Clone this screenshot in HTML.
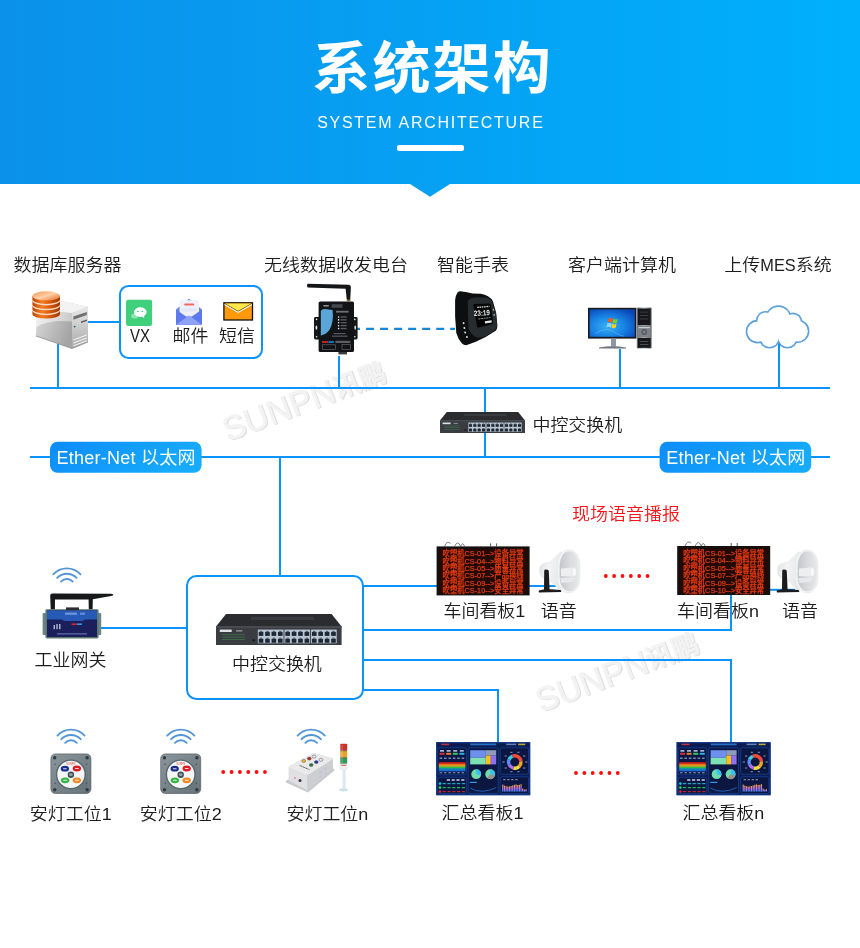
<!DOCTYPE html>
<html lang="zh-CN">
<head>
<meta charset="utf-8">
<title>系统架构 SYSTEM ARCHITECTURE</title>
<style>
html,body{margin:0;padding:0;background:#fff;}
body{width:860px;height:948px;overflow:hidden;position:relative;font-family:"Liberation Sans","Noto Sans CJK SC",sans-serif;}
#hdr{will-change:transform;position:absolute;left:0;top:0;width:860px;height:183.5px;background:linear-gradient(90deg,#0b91ea 0%,#00b0fc 100%);}
#hdr h1{position:absolute;left:0;top:32.2px;width:865.2px;margin:0;text-align:center;color:#fff;font-size:58px;line-height:70px;font-weight:bold;letter-spacing:2.2px;transform:scaleY(0.964);transform-origin:50% 100%;}
#hdr p{position:absolute;left:0;top:111.6px;width:861.7px;margin:0;text-align:center;color:#fff;font-size:16px;line-height:22px;letter-spacing:1.72px;}
#hdr i{position:absolute;left:397px;top:145px;width:67px;height:6px;border-radius:2px;background:#fff;}
svg{position:absolute;left:0;top:0;will-change:transform;}
svg text{font-family:"Liberation Sans","Noto Sans CJK SC",sans-serif;}
</style>
</head>
<body>
<div id="hdr"><h1>系统架构</h1><p>SYSTEM ARCHITECTURE</p><i></i></div>
<svg width="860" height="948" viewBox="0 0 860 948">
<defs>
<linearGradient id="gPill" x1="0" y1="0" x2="1" y2="0.25"><stop offset="0" stop-color="#0d8cf8"/><stop offset="1" stop-color="#17abfc"/></linearGradient>
<linearGradient id="gHorn" x1="0" y1="0" x2="1" y2="0.3"><stop offset="0" stop-color="#dfe0e3"/><stop offset="0.45" stop-color="#f4f4f5"/><stop offset="1" stop-color="#e4e5e7"/></linearGradient>
<linearGradient id="gBell" x1="0" y1="0" x2="1" y2="0"><stop offset="0" stop-color="#f6f6f7"/><stop offset="1" stop-color="#ededee"/></linearGradient>
<linearGradient id="gBellIn" x1="0" y1="0" x2="1" y2="0"><stop offset="0" stop-color="#c4c6c9"/><stop offset="0.5" stop-color="#d9dadc"/><stop offset="1" stop-color="#e6e7e8"/></linearGradient>
<linearGradient id="gBar" x1="0" y1="0" x2="0" y2="1"><stop offset="0" stop-color="#f6a040"/><stop offset="0.5" stop-color="#c070f0"/><stop offset="1" stop-color="#4a8af4"/></linearGradient>
<linearGradient id="gAnd" x1="0" y1="0" x2="1" y2="1"><stop offset="0" stop-color="#8b979c"/><stop offset="1" stop-color="#626f75"/></linearGradient>
<linearGradient id="gSrvF" x1="0" y1="0" x2="1" y2="0"><stop offset="0" stop-color="#efefef"/><stop offset="0.5" stop-color="#d6d6d6"/><stop offset="1" stop-color="#b4b4b4"/></linearGradient>
<linearGradient id="gSrvL" x1="0" y1="0" x2="1" y2="0.3"><stop offset="0" stop-color="#d6d6d6"/><stop offset="1" stop-color="#a4a4a4"/></linearGradient>
<linearGradient id="gSrvS" x1="0" y1="0" x2="0" y2="1"><stop offset="0" stop-color="#e9e9e9"/><stop offset="1" stop-color="#a9a9a9"/></linearGradient>
<linearGradient id="gDb" x1="0" y1="0" x2="1" y2="0"><stop offset="0" stop-color="#b84606"/><stop offset="0.35" stop-color="#f87c1e"/><stop offset="0.62" stop-color="#dc5a0a"/><stop offset="1" stop-color="#9c3604"/></linearGradient>
<linearGradient id="gDbT" x1="0" y1="0" x2="1" y2="1"><stop offset="0" stop-color="#f59a52"/><stop offset="0.5" stop-color="#ffd0a6"/><stop offset="1" stop-color="#e5671a"/></linearGradient>
<radialGradient id="gMon" cx="0.4" cy="0.62" r="0.75"><stop offset="0" stop-color="#38b2f6"/><stop offset="0.5" stop-color="#1782e4"/><stop offset="1" stop-color="#0a44b6"/></radialGradient>
<linearGradient id="gTow" x1="0" y1="0" x2="1" y2="0"><stop offset="0" stop-color="#6e7176"/><stop offset="0.5" stop-color="#b9bcc0"/><stop offset="1" stop-color="#5a5d62"/></linearGradient>
</defs>
<polygon points="409.2,183.4 450.8,183.4 430,196.8" fill="#06a1f3"/>
<text x="309.0" y="412.5" font-size="33.5" fill="#dedede" stroke="#dedede" stroke-width="0.5" text-anchor="middle" transform="rotate(-20.5 308 411.5)">SUNPN<tspan font-size="27" font-weight="bold" dy="-1.5">讯鹏</tspan></text>
<text x="308" y="411.5" font-size="33.5" fill="#f3f3f3" stroke="#f3f3f3" stroke-width="0.5" text-anchor="middle" transform="rotate(-20.5 308 411.5)">SUNPN<tspan font-size="27" font-weight="bold" dy="-1.5">讯鹏</tspan></text>
<text x="622.0" y="683.5" font-size="33.5" fill="#dedede" stroke="#dedede" stroke-width="0.5" text-anchor="middle" transform="rotate(-20.5 621 682.5)">SUNPN<tspan font-size="27" font-weight="bold" dy="-1.5">讯鹏</tspan></text>
<text x="621" y="682.5" font-size="33.5" fill="#f3f3f3" stroke="#f3f3f3" stroke-width="0.5" text-anchor="middle" transform="rotate(-20.5 621 682.5)">SUNPN<tspan font-size="27" font-weight="bold" dy="-1.5">讯鹏</tspan></text>
<g fill="none" stroke="#0c93fb" stroke-width="2">
<path d="M30 388 H830"/>
<path d="M30 457 H830"/>
<path d="M58 344 V388"/>
<path d="M88 322 H120"/>
<path d="M339 356 V388"/>
<path d="M620 349 V388"/>
<path d="M779 344 V388"/>
<path d="M485 388 V457"/>
<path d="M280 457 V576"/>
<path d="M100 628 H187"/>
<path d="M363 586 H556"/>
<path d="M363 630 H731 V595"/>
<path d="M770 589.8 H795"/>
<path d="M363 660 H731 V742"/>
<path d="M363 690 H498 V742"/>
</g>
<path d="M352 328.9 H455" fill="none" stroke="#1487d7" stroke-width="2.2" stroke-dasharray="8 6.04"/>
<rect x="120" y="286" width="142" height="72" rx="8.5" fill="#fff" stroke="#0c93fb" stroke-width="2"/>
<rect x="187" y="576" width="176" height="123" rx="9.5" fill="#fff" stroke="#0c93fb" stroke-width="2"/>
<rect x="50" y="441.8" width="151.6" height="31" rx="7.5" fill="url(#gPill)"/>
<text x="126.2" y="464" font-size="18" fill="#fff" text-anchor="middle" letter-spacing="0.25">Ether-Net 以太网</text>
<rect x="659.6" y="441.8" width="151.6" height="31" rx="7.5" fill="url(#gPill)"/>
<text x="735.8000000000001" y="464" font-size="18" fill="#fff" text-anchor="middle" letter-spacing="0.25">Ether-Net 以太网</text>
<text x="67.5" y="271.8" font-size="18" font-weight="350" fill="#1c1c1c" text-anchor="middle" transform="translate(0 15.898) scale(1 0.94)" >数据库服务器</text>
<text x="336" y="271.8" font-size="18" font-weight="350" fill="#1c1c1c" text-anchor="middle" transform="translate(0 15.898) scale(1 0.94)" >无线数据收发电台</text>
<text x="473" y="271.8" font-size="18" font-weight="350" fill="#1c1c1c" text-anchor="middle" transform="translate(0 15.898) scale(1 0.94)" >智能手表</text>
<text x="622" y="271.8" font-size="18" font-weight="350" fill="#1c1c1c" text-anchor="middle" transform="translate(0 15.898) scale(1 0.94)" >客户端计算机</text>
<text x="778" y="271.8" font-size="18" font-weight="350" fill="#1c1c1c" text-anchor="middle" transform="translate(0 15.898) scale(1 0.94)" >上传<tspan textLength="35.4" lengthAdjust="spacingAndGlyphs">MES</tspan>系统</text>
<g>
<path d="M36 309 L62 301 L88 307 L88 342 L72 348.5 L36 336 Z" fill="url(#gSrvF)"/>
<path d="M36 309 L62 301 L88 307 L72 313 Z" fill="#f3f3f3"/>
<path d="M72 313 L88 307 L88 342 L72 348.5 Z" fill="url(#gSrvS)"/>
<path d="M36 336 L36.4 327 Q50 319.4 72 321.6 L72 348.5 Z" fill="url(#gSrvL)"/>
<path d="M36 336 L72 348.5 L88 342" fill="none" stroke="#8e8e8e" stroke-width="0.8"/>
<path d="M73.4 316.6 L86.8 312 L86.8 315 L73.4 319.8 Z" fill="#6f6f6f"/>
<path d="M81 321.6 L86.8 319.6 V321 L81 323 Z" fill="#555"/>
<circle cx="74.6" cy="326.6" r="0.9" fill="#1a5a7a"/>
<path d="M73.4 340 L86.8 335 M73.4 343 L86.8 338 M73.4 345.8 L86.8 340.8" stroke="#fff" stroke-width="0.9"/>
<path d="M32.4 310.6 V314.0 A13.8 4.6 0 0 0 60 314.0 V310.6 Z" fill="url(#gDb)"/>
<ellipse cx="46.2" cy="310.6" rx="13.8" ry="4.6" fill="#f4d9c4"/>
<path d="M32.4 305.70000000000005 V309.1 A13.8 4.6 0 0 0 60 309.1 V305.70000000000005 Z" fill="url(#gDb)"/>
<ellipse cx="46.2" cy="305.70000000000005" rx="13.8" ry="4.6" fill="#f4d9c4"/>
<path d="M32.4 300.8 V304.2 A13.8 4.6 0 0 0 60 304.2 V300.8 Z" fill="url(#gDb)"/>
<ellipse cx="46.2" cy="300.8" rx="13.8" ry="4.6" fill="#f4d9c4"/>
<path d="M32.4 295.90000000000003 V299.3 A13.8 4.6 0 0 0 60 299.3 V295.90000000000003 Z" fill="url(#gDb)"/>
<ellipse cx="46.2" cy="295.90000000000003" rx="13.8" ry="4.6" fill="url(#gDbT)"/>
</g>
<rect x="126" y="299.8" width="26.1" height="26.1" rx="2.2" fill="#40cf7b"/>
<ellipse cx="134.6" cy="316" rx="3.5" ry="2.6" fill="#8fe3b0"/>
<ellipse cx="140.3" cy="312.1" rx="6.3" ry="4.9" fill="#fff"/>
<path d="M141.6 316 L144.2 318.2 L144 315 Z" fill="#fff"/>
<ellipse cx="138" cy="311.4" rx="0.95" ry="0.6" fill="#40cf7b"/><ellipse cx="142.4" cy="311.4" rx="0.95" ry="0.6" fill="#40cf7b"/>
<text x="140" y="341.6" font-size="17.8" font-weight="350" fill="#1c1c1c" text-anchor="middle"  textLength="20" lengthAdjust="spacingAndGlyphs">VX</text>
<path d="M176 309.6 L189 298.8 L202 309.6 V324.8 H176 Z" fill="#6a84f0"/>
<rect x="179.6" y="300.2" width="19.4" height="16.4" rx="1.6" fill="#eef1fb"/>
<rect x="184.2" y="303.4" width="10" height="2.2" rx="0.8" fill="#f4685c"/>
<rect x="181.6" y="308.4" width="15.4" height="3" fill="#e2e6f7"/>
<path d="M176 309.6 L189 318.6 L202 309.6 V324.8 H176 Z" fill="#5c79ee"/>
<path d="M176 324.8 L189 315.4 L202 324.8 Z" fill="#8ea2f6"/>
<text x="190.6" y="342.2" font-size="18" font-weight="350" fill="#1c1c1c" text-anchor="middle" transform="translate(0 20.122) scale(1 0.94)" >邮件</text>
<rect x="223.9" y="302.8" width="28.6" height="17.2" fill="#ff9a0c" stroke="#111" stroke-width="1.3"/>
<path d="M224.6 303.5 H251.8 L238.2 311.8 Z" fill="#ffe84a"/>
<path d="M224.6 303.6 L238.2 311.4 L251.8 303.6" fill="none" stroke="#2a1a00" stroke-width="0.7"/><path d="M224.6 304.6 L238.2 312.4 L251.8 304.6" fill="none" stroke="#fff" stroke-width="1.1"/>
<text x="236.9" y="342.2" font-size="18" font-weight="350" fill="#1c1c1c" text-anchor="middle" transform="translate(0 20.122) scale(1 0.94)" >短信</text>
<g>
<path d="M307.6 283.7 Q306.2 285.6 307.6 287.4 L345.6 288.7 L346.9 300.8 L350.2 300.8 L350.9 287.2 Q351 284.9 348.6 284.8 Z" fill="#151618"/><rect x="347" y="299.4" width="3.2" height="1.8" fill="#7a6a3a"/>
<rect x="314" y="317" width="6" height="22.4" rx="1.4" fill="#17181a"/><rect x="352.6" y="317" width="5" height="22.4" rx="1.4" fill="#17181a"/>
<ellipse cx="316.4" cy="327.6" rx="0.9" ry="2.2" fill="#e8e8e8"/><ellipse cx="355.2" cy="327.6" rx="0.8" ry="2.2" fill="#e8e8e8"/>
<circle cx="316.6" cy="319.4" r="0.8" fill="#f0f0f0"/><circle cx="316.6" cy="336.8" r="0.8" fill="#f0f0f0"/><circle cx="354.8" cy="319.4" r="0.8" fill="#f0f0f0"/><circle cx="354.8" cy="336.8" r="0.8" fill="#f0f0f0"/>
<rect x="318.6" y="301.4" width="35.4" height="50.6" rx="1.6" fill="#121316"/>
<path d="M320.8 311 Q322 308.8 325 309 L332.6 310 Q334 322 329.4 330 Q326 334.6 320.8 335.6 Z" fill="#5aa6d6"/>
<rect x="331.6" y="304.2" width="11" height="3.6" fill="#44474c"/><rect x="323.4" y="305" width="5.4" height="1.6" fill="#8a8d92"/><rect x="336" y="310.8" width="12.6" height="1.8" fill="#6c6f75"/><rect x="333.6" y="333" width="12" height="1.2" fill="#54575d"/><rect x="332" y="335.6" width="15.6" height="1.2" fill="#54575d"/>
<circle cx="338.6" cy="317.0" r="0.8" fill="#eef"/><rect x="340.6" y="316.3" width="6" height="1.3" fill="#5a5d63"/>
<circle cx="338.6" cy="319.9" r="0.8" fill="#eef"/><rect x="340.6" y="319.2" width="6" height="1.3" fill="#5a5d63"/>
<circle cx="338.6" cy="322.8" r="0.8" fill="#eef"/><rect x="340.6" y="322.1" width="6" height="1.3" fill="#5a5d63"/>
<circle cx="338.6" cy="325.7" r="0.8" fill="#eef"/><rect x="340.6" y="325.0" width="6" height="1.3" fill="#5a5d63"/>
<circle cx="338.6" cy="328.6" r="0.8" fill="#eef"/><rect x="340.6" y="327.9" width="6" height="1.3" fill="#5a5d63"/>
<rect x="322" y="341.2" width="6" height="1.6" fill="#e02a2a"/><rect x="328.4" y="341.2" width="5.4" height="1.6" fill="#1a8ae8"/><rect x="335.4" y="340.8" width="15" height="2.2" fill="#5a5d63"/>
<rect x="322.4" y="344.8" width="13" height="4.6" fill="none" stroke="#6a6d72" stroke-width="0.6"/><rect x="342" y="344.6" width="8.6" height="5" fill="none" stroke="#6a6d72" stroke-width="0.6"/>
<rect x="338.4" y="352" width="8.6" height="2.4" fill="#3a3c40"/>
</g>
<g>
<path d="M457.5 292.4 Q459 291 462 291.4 L467 292.2 L472.5 293.4 L480.7 293.8 Q485 294.4 488 296.3 Q491.4 298.4 492.9 301.2 L496.1 312.5 L497.4 325.6 Q497.4 328.6 496.1 330.4 L485.6 337 L475.8 341.8 L466.9 345.1 Q464 345.4 462 343.5 Q458 339 456.3 332.9 L455.1 316.6 L455.1 300.3 Q455.6 295 457.5 292.4 Z" fill="#0d0e0f"/>
<path d="M467.7 302.6 Q468.4 298.4 474.2 297.5 L485.6 297.5 Q490.4 298 492.1 302 L496.1 314.2 L497 325.6 Q496.6 329 494 331 L485.6 336.1 Q480 338.6 475.8 337 Q471 334.4 468.5 328.8 Z" fill="#272d2f"/>
<path d="M473.4 305.2 Q473 304 474.6 303.9 L489.2 303.4 Q490.6 303.4 490.9 304.8 L493 322.4 Q493 323.8 491.6 324.2 L478.8 327.6 Q477.4 327.8 477 326.4 Z" fill="#040505"/>
<text x="481.8" y="315.6" font-size="7.6" font-weight="bold" fill="#eeeeee" text-anchor="middle" textLength="16" lengthAdjust="spacingAndGlyphs" transform="rotate(-3 481.8 313)">23:19</text>
<path d="M477.2 307.4 L489.4 306.4" stroke="#cfcfcf" stroke-width="1.4" stroke-dasharray="1.6 0.7"/>
<path d="M478.4 319 L490.4 317.6" stroke="#8c8c8c" stroke-width="1" stroke-dasharray="2 0.6"/>
<path d="M484.8 321.2 L491.6 320.2 L491.8 322.4 L485 323.4 Z" fill="#e6e6e6"/>
<rect x="462.8" y="322.20000000000005" width="1.6" height="1.8" fill="#e4e4e4" transform="rotate(-14 463.6 323.1)"/>
<rect x="463.59999999999997" y="327.1" width="1.6" height="1.8" fill="#e4e4e4" transform="rotate(-14 464.4 328)"/>
<rect x="464.4" y="331.6" width="1.6" height="1.8" fill="#e4e4e4" transform="rotate(-14 465.2 332.5)"/>
<rect x="466.09999999999997" y="336.1" width="1.6" height="1.8" fill="#e4e4e4" transform="rotate(-14 466.9 337)"/>
<rect x="492.7" y="308.8" width="1.4" height="1.9" fill="#9aa3a6"/><rect x="493.5" y="314" width="1.4" height="1.9" fill="#9aa3a6"/>
</g>
<g>
<rect x="588" y="307.8" width="48.4" height="30.8" fill="#1a1a1c"/>
<rect x="589.6" y="309.4" width="45.2" height="27.4" fill="url(#gMon)"/>
<path d="M595.4 333.6 Q606 326 615 332.6 Q620 335.6 624 336.2" fill="none" stroke="#7cc8f8" stroke-width="0.7" opacity="0.6"/>
<g transform="translate(612.6 323) rotate(8)"><path d="M-4.6 -3.9 q2 -1.5 4.2 -0.5 l-0.3 3.9 q-2.2 -0.7 -4.4 0.5z" fill="#f25a22"/><path d="M0.2 -4.2 q2.2 0.9 4.4 -0.6 l-0.4 4 q-2.2 1.4 -4.3 0.5z" fill="#80cc28"/><path d="M-5.2 1.1 q2.2 -1.3 4.4 -0.4 l-0.3 3.9 q-2.2 -0.8 -4.4 0.4z" fill="#8ad8ff"/><path d="M-0.3 0.8 q2.2 0.9 4.3 -0.5 l-0.4 3.9 q-2 1.4 -4.2 0.5z" fill="#fcd116"/></g>
<rect x="611" y="338.6" width="5" height="8" fill="#8f98a6"/><path d="M599 347.6 Q612 345 626 347.6 L626 348.6 L599 348.6 Z" fill="#6f7680"/>
<rect x="636.8" y="307.6" width="14.8" height="40.8" rx="1" fill="url(#gTow)"/>
<rect x="637.8" y="308.6" width="12.8" height="16.4" fill="#16171a"/><rect x="640" y="311.6" width="8.4" height="1" fill="#3c3e44"/><rect x="640" y="315" width="8.4" height="1" fill="#3c3e44"/><rect x="640" y="318.4" width="8.4" height="1" fill="#3c3e44"/>
<rect x="637.8" y="325.6" width="12.8" height="11.8" fill="#7d8188"/><rect x="638.6" y="327" width="11.2" height="1.2" fill="#c9ccd0"/><circle cx="644.2" cy="332" r="2.9" fill="#565a61"/><circle cx="644.2" cy="332" r="1.6" fill="#7a7e85"/>
<rect x="637.8" y="338" width="12.8" height="9.8" fill="#16171a"/><rect x="640" y="341" width="8.4" height="1" fill="#4a4c52"/><rect x="640" y="344" width="8.4" height="1" fill="#4a4c52"/>
</g>
<g fill="#5b9fdb"><circle cx="757.5" cy="331.6" r="11.8"/><circle cx="765.5" cy="320.5" r="9.6"/><circle cx="778.4" cy="318.5" r="13.2"/><circle cx="793" cy="322" r="9.4"/><circle cx="797.6" cy="331.2" r="11.8"/><circle cx="787.4" cy="338" r="10.6"/><circle cx="769.6" cy="338" r="10.6"/></g>
<g fill="#fff"><ellipse cx="778" cy="330" rx="14" ry="8.5"/><circle cx="757.5" cy="331.6" r="10.2"/><circle cx="765.5" cy="320.5" r="8.0"/><circle cx="778.4" cy="318.5" r="11.6"/><circle cx="793" cy="322" r="7.8"/><circle cx="797.6" cy="331.2" r="10.2"/><circle cx="787.4" cy="338" r="9.0"/><circle cx="769.6" cy="338" r="9.0"/></g>
<path d="M779 343.4 V388" stroke="#0c93fb" stroke-width="2"/>
<g><path d="M446.80 412 L518.20 412 L525 420.40 L525 421.40 L440 421.40 L440 420.40 Z" fill="#2a2c30"/><path d="M463.80 415.02 L506.30 415.02" stroke="#383b40" stroke-width="2.18"/><rect x="440" y="420.40" width="85" height="12.60" fill="#393c41"/><rect x="440" y="420.40" width="85" height="0.80" fill="#565a60"/><rect x="468.31" y="422.54" width="17.37" height="9.32" fill="#b9c5d2"/><rect x="468.91" y="424.13" width="3.13" height="2.70" fill="#1d2734"/><rect x="469.69" y="423.38" width="1.56" height="0.93" fill="#55606e"/><rect x="468.91" y="428.79" width="3.13" height="2.70" fill="#1d2734"/><rect x="469.69" y="428.04" width="1.56" height="0.93" fill="#55606e"/><rect x="473.25" y="424.13" width="3.13" height="2.70" fill="#1d2734"/><rect x="474.04" y="423.38" width="1.56" height="0.93" fill="#55606e"/><rect x="473.25" y="428.79" width="3.13" height="2.70" fill="#1d2734"/><rect x="474.04" y="428.04" width="1.56" height="0.93" fill="#55606e"/><rect x="477.60" y="424.13" width="3.13" height="2.70" fill="#1d2734"/><rect x="478.38" y="423.38" width="1.56" height="0.93" fill="#55606e"/><rect x="477.60" y="428.79" width="3.13" height="2.70" fill="#1d2734"/><rect x="478.38" y="428.04" width="1.56" height="0.93" fill="#55606e"/><rect x="481.94" y="424.13" width="3.13" height="2.70" fill="#1d2734"/><rect x="482.72" y="423.38" width="1.56" height="0.93" fill="#55606e"/><rect x="481.94" y="428.79" width="3.13" height="2.70" fill="#1d2734"/><rect x="482.72" y="428.04" width="1.56" height="0.93" fill="#55606e"/><rect x="486.31" y="422.54" width="17.37" height="9.32" fill="#b9c5d2"/><rect x="486.92" y="424.13" width="3.13" height="2.70" fill="#1d2734"/><rect x="487.70" y="423.38" width="1.56" height="0.93" fill="#55606e"/><rect x="486.92" y="428.79" width="3.13" height="2.70" fill="#1d2734"/><rect x="487.70" y="428.04" width="1.56" height="0.93" fill="#55606e"/><rect x="491.26" y="424.13" width="3.13" height="2.70" fill="#1d2734"/><rect x="492.04" y="423.38" width="1.56" height="0.93" fill="#55606e"/><rect x="491.26" y="428.79" width="3.13" height="2.70" fill="#1d2734"/><rect x="492.04" y="428.04" width="1.56" height="0.93" fill="#55606e"/><rect x="495.60" y="424.13" width="3.13" height="2.70" fill="#1d2734"/><rect x="496.38" y="423.38" width="1.56" height="0.93" fill="#55606e"/><rect x="495.60" y="428.79" width="3.13" height="2.70" fill="#1d2734"/><rect x="496.38" y="428.04" width="1.56" height="0.93" fill="#55606e"/><rect x="499.94" y="424.13" width="3.13" height="2.70" fill="#1d2734"/><rect x="500.73" y="423.38" width="1.56" height="0.93" fill="#55606e"/><rect x="499.94" y="428.79" width="3.13" height="2.70" fill="#1d2734"/><rect x="500.73" y="428.04" width="1.56" height="0.93" fill="#55606e"/><rect x="504.32" y="422.54" width="17.37" height="9.32" fill="#b9c5d2"/><rect x="504.93" y="424.13" width="3.13" height="2.70" fill="#1d2734"/><rect x="505.71" y="423.38" width="1.56" height="0.93" fill="#55606e"/><rect x="504.93" y="428.79" width="3.13" height="2.70" fill="#1d2734"/><rect x="505.71" y="428.04" width="1.56" height="0.93" fill="#55606e"/><rect x="509.27" y="424.13" width="3.13" height="2.70" fill="#1d2734"/><rect x="510.05" y="423.38" width="1.56" height="0.93" fill="#55606e"/><rect x="509.27" y="428.79" width="3.13" height="2.70" fill="#1d2734"/><rect x="510.05" y="428.04" width="1.56" height="0.93" fill="#55606e"/><rect x="513.61" y="424.13" width="3.13" height="2.70" fill="#1d2734"/><rect x="514.39" y="423.38" width="1.56" height="0.93" fill="#55606e"/><rect x="513.61" y="428.79" width="3.13" height="2.70" fill="#1d2734"/><rect x="514.39" y="428.04" width="1.56" height="0.93" fill="#55606e"/><rect x="517.95" y="424.13" width="3.13" height="2.70" fill="#1d2734"/><rect x="518.73" y="423.38" width="1.56" height="0.93" fill="#55606e"/><rect x="517.95" y="428.79" width="3.13" height="2.70" fill="#1d2734"/><rect x="518.73" y="428.04" width="1.56" height="0.93" fill="#55606e"/><rect x="442.55" y="422.54" width="8.07" height="1.64" fill="#dfe2e6"/><rect x="453.60" y="422.92" width="4.25" height="1.01" fill="#8a8e95"/><rect x="444.25" y="425.69" width="15.30" height="0.63" fill="#3f6a4c"/><rect x="444.25" y="427.33" width="15.30" height="0.63" fill="#3f6a4c"/><rect x="444.25" y="428.97" width="15.30" height="0.63" fill="#3f6a4c"/><rect x="464.65" y="429.22" width="1.70" height="1.26" fill="#15171a"/></g>
<text x="532.4" y="431.1" font-size="18" font-weight="350" fill="#1c1c1c" text-anchor="start" transform="translate(0 25.456) scale(1 0.94)" >中控交换机</text>
<text x="626" y="520.4" font-size="18" font-weight="350" fill="#f81418" text-anchor="middle" transform="translate(0 30.814) scale(1 0.94)" >现场语音播报</text>
<path d="M61.05 581.54 A8 8 0 0 1 72.75 581.54" fill="none" stroke="#5396d8" stroke-width="1.85" stroke-linecap="round"/><path d="M57.18 577.93 A13.3 13.3 0 0 1 76.62 577.93" fill="none" stroke="#5396d8" stroke-width="1.85" stroke-linecap="round"/><path d="M53.30 574.31 A18.6 18.6 0 0 1 80.50 574.31" fill="none" stroke="#5396d8" stroke-width="1.85" stroke-linecap="round"/>
<g>
<path d="M50.2 596 Q50.2 593.6 52.8 593.6 L111 593.8 Q113.8 594 113.4 595 Q113.2 595.6 111 596 L92.8 599.3 L92.6 609.6 L88.8 609.6 L88.6 599.4 L55 599.4 L54.9 609.6 L50.7 609.6 Z" fill="#17181a"/>
<rect x="42.6" y="613" width="4" height="22" rx="1" fill="#6d8582"/><rect x="97.6" y="613" width="3.6" height="22" rx="1" fill="#6d8582"/>
<rect x="45.4" y="609.2" width="53.2" height="29.2" rx="1.4" fill="#5d7774"/>
<rect x="47" y="610.4" width="50" height="26.6" fill="#1b205a"/>
<path d="M47 610.4 H97 V619.6 H85 L82.6 621 H64.4 L62 619.6 H47 Z" fill="#2759b6"/>
<rect x="66" y="607.4" width="13" height="2.6" fill="#2a2c30"/>
<rect x="65" y="612.6" width="12" height="2.2" fill="#8fb0e8" opacity="0.7"/><rect x="80" y="612.6" width="5" height="2.2" fill="#8fb0e8" opacity="0.6"/>
<rect x="53.6" y="625" width="1.2" height="4.2" fill="#c8d0e8"/><rect x="56.4" y="624" width="1.2" height="5.2" fill="#c8d0e8"/><rect x="59.2" y="624" width="1.2" height="5.2" fill="#c8d0e8"/>
<rect x="71.6" y="623.4" width="5" height="1.6" fill="#e0282a"/><rect x="77" y="623.4" width="5" height="1.6" fill="#2a9af0"/>
<rect x="57" y="633.4" width="30" height="1" fill="#6f86b8"/>
</g>
<text x="70.6" y="666.2" font-size="18" font-weight="350" fill="#1c1c1c" text-anchor="middle" transform="translate(0 39.562) scale(1 0.94)" >工业网关</text>
<g><path d="M226.05 614 L331.55 614 L341.6 626.40 L341.6 627.40 L216 627.40 L216 626.40 Z" fill="#2a2c30"/><path d="M251.17 618.46 L313.97 618.46" stroke="#383b40" stroke-width="3.22"/><rect x="216" y="626.40" width="125.6" height="18.60" fill="#393c41"/><rect x="216" y="626.40" width="125.6" height="1.09" fill="#565a60"/><rect x="257.82" y="629.56" width="25.66" height="13.76" fill="#b9c5d2"/><rect x="258.72" y="631.90" width="4.62" height="3.99" fill="#1d2734"/><rect x="259.88" y="630.80" width="2.31" height="1.38" fill="#55606e"/><rect x="258.72" y="638.78" width="4.62" height="3.99" fill="#1d2734"/><rect x="259.88" y="637.68" width="2.31" height="1.38" fill="#55606e"/><rect x="265.14" y="631.90" width="4.62" height="3.99" fill="#1d2734"/><rect x="266.29" y="630.80" width="2.31" height="1.38" fill="#55606e"/><rect x="265.14" y="638.78" width="4.62" height="3.99" fill="#1d2734"/><rect x="266.29" y="637.68" width="2.31" height="1.38" fill="#55606e"/><rect x="271.55" y="631.90" width="4.62" height="3.99" fill="#1d2734"/><rect x="272.71" y="630.80" width="2.31" height="1.38" fill="#55606e"/><rect x="271.55" y="638.78" width="4.62" height="3.99" fill="#1d2734"/><rect x="272.71" y="637.68" width="2.31" height="1.38" fill="#55606e"/><rect x="277.97" y="631.90" width="4.62" height="3.99" fill="#1d2734"/><rect x="279.12" y="630.80" width="2.31" height="1.38" fill="#55606e"/><rect x="277.97" y="638.78" width="4.62" height="3.99" fill="#1d2734"/><rect x="279.12" y="637.68" width="2.31" height="1.38" fill="#55606e"/><rect x="284.43" y="629.56" width="25.66" height="13.76" fill="#b9c5d2"/><rect x="285.33" y="631.90" width="4.62" height="3.99" fill="#1d2734"/><rect x="286.49" y="630.80" width="2.31" height="1.38" fill="#55606e"/><rect x="285.33" y="638.78" width="4.62" height="3.99" fill="#1d2734"/><rect x="286.49" y="637.68" width="2.31" height="1.38" fill="#55606e"/><rect x="291.75" y="631.90" width="4.62" height="3.99" fill="#1d2734"/><rect x="292.90" y="630.80" width="2.31" height="1.38" fill="#55606e"/><rect x="291.75" y="638.78" width="4.62" height="3.99" fill="#1d2734"/><rect x="292.90" y="637.68" width="2.31" height="1.38" fill="#55606e"/><rect x="298.16" y="631.90" width="4.62" height="3.99" fill="#1d2734"/><rect x="299.32" y="630.80" width="2.31" height="1.38" fill="#55606e"/><rect x="298.16" y="638.78" width="4.62" height="3.99" fill="#1d2734"/><rect x="299.32" y="637.68" width="2.31" height="1.38" fill="#55606e"/><rect x="304.58" y="631.90" width="4.62" height="3.99" fill="#1d2734"/><rect x="305.73" y="630.80" width="2.31" height="1.38" fill="#55606e"/><rect x="304.58" y="638.78" width="4.62" height="3.99" fill="#1d2734"/><rect x="305.73" y="637.68" width="2.31" height="1.38" fill="#55606e"/><rect x="311.04" y="629.56" width="25.66" height="13.76" fill="#b9c5d2"/><rect x="311.94" y="631.90" width="4.62" height="3.99" fill="#1d2734"/><rect x="313.09" y="630.80" width="2.31" height="1.38" fill="#55606e"/><rect x="311.94" y="638.78" width="4.62" height="3.99" fill="#1d2734"/><rect x="313.09" y="637.68" width="2.31" height="1.38" fill="#55606e"/><rect x="318.35" y="631.90" width="4.62" height="3.99" fill="#1d2734"/><rect x="319.51" y="630.80" width="2.31" height="1.38" fill="#55606e"/><rect x="318.35" y="638.78" width="4.62" height="3.99" fill="#1d2734"/><rect x="319.51" y="637.68" width="2.31" height="1.38" fill="#55606e"/><rect x="324.77" y="631.90" width="4.62" height="3.99" fill="#1d2734"/><rect x="325.92" y="630.80" width="2.31" height="1.38" fill="#55606e"/><rect x="324.77" y="638.78" width="4.62" height="3.99" fill="#1d2734"/><rect x="325.92" y="637.68" width="2.31" height="1.38" fill="#55606e"/><rect x="331.18" y="631.90" width="4.62" height="3.99" fill="#1d2734"/><rect x="332.34" y="630.80" width="2.31" height="1.38" fill="#55606e"/><rect x="331.18" y="638.78" width="4.62" height="3.99" fill="#1d2734"/><rect x="332.34" y="637.68" width="2.31" height="1.38" fill="#55606e"/><rect x="219.77" y="629.56" width="11.93" height="2.42" fill="#dfe2e6"/><rect x="236.10" y="630.12" width="6.28" height="1.49" fill="#8a8e95"/><rect x="222.28" y="634.21" width="22.61" height="0.93" fill="#3f6a4c"/><rect x="222.28" y="636.63" width="22.61" height="0.93" fill="#3f6a4c"/><rect x="222.28" y="639.05" width="22.61" height="0.93" fill="#3f6a4c"/><rect x="252.42" y="639.42" width="2.51" height="1.86" fill="#15171a"/></g>
<text x="276.9" y="670.5" font-size="18" font-weight="350" fill="#1c1c1c" text-anchor="middle" transform="translate(0 39.820) scale(1 0.94)" >中控交换机</text>
<g><path d="M444.6 546.4 q2 -6 6 -3 M454.6 546.4 q3 -7 6 0 q2 -5 4 0" fill="none" stroke="#4a4a4a" stroke-width="0.7"/><path d="M490.6 546.4 v-3 M496.6 546.4 v-3" stroke="#4a4a4a" stroke-width="0.9"/><rect x="436.6" y="546.4" width="93" height="49" fill="#15100e"/><rect x="439.1" y="548.9" width="88" height="44" fill="#230903"/><text x="442.6" y="556.10" font-size="7.5" font-weight="500" fill="#e23a10" stroke="#e23a10" stroke-width="0.25" textLength="81" lengthAdjust="spacingAndGlyphs">吹塑机CS-01--&gt;设备异常</text><text x="442.6" y="563.55" font-size="7.5" font-weight="500" fill="#e23a10" stroke="#e23a10" stroke-width="0.25" textLength="81" lengthAdjust="spacingAndGlyphs">吹塑机CS-04--&gt;物料异常</text><text x="442.6" y="571.00" font-size="7.5" font-weight="500" fill="#e23a10" stroke="#e23a10" stroke-width="0.25" textLength="81" lengthAdjust="spacingAndGlyphs">吹塑机CS-05--&gt;质量异常</text><text x="442.6" y="578.45" font-size="7.5" font-weight="500" fill="#e23a10" stroke="#e23a10" stroke-width="0.25" textLength="81" lengthAdjust="spacingAndGlyphs">吹塑机CS-07--&gt;产品换线</text><text x="442.6" y="585.90" font-size="7.5" font-weight="500" fill="#e23a10" stroke="#e23a10" stroke-width="0.25" textLength="81" lengthAdjust="spacingAndGlyphs">吹塑机CS-09--&gt;设备异常</text><text x="442.6" y="593.35" font-size="7.5" font-weight="500" fill="#e23a10" stroke="#e23a10" stroke-width="0.25" textLength="81" lengthAdjust="spacingAndGlyphs">吹塑机CS-10--&gt;安全异常</text></g>
<g transform="translate(539 550)"><path d="M1 16.5 Q-0.2 21 1.4 25.6 Q4.6 29.6 10 29.8 L22 41 L26 20 L22 1.6 L10.6 12.6 Q3.6 12.8 1 16.5 Z" fill="url(#gHorn)" stroke="#dcdee1" stroke-width="0.5"/><path d="M5.2 21 Q5.2 19.6 6.8 19.6 L8.6 19.8 Q9.8 20 9.8 21.4 L10.6 40 L5 40 Z" fill="#1c1c1f"/><path d="M-0.4 40.6 Q5 38.8 12 39.2 L21.6 40 L22.4 42 L0 42.4 Z" fill="#1c1c1f"/><rect x="18.8" y="-0.2" width="22.2" height="43.2" rx="10.4" ry="15" fill="url(#gBell)" stroke="#e3e5e7" stroke-width="0.5"/><rect x="20.6" y="1.6" width="19" height="39.6" rx="9" ry="14" fill="url(#gBellIn)"/><path d="M22 18.6 L34 17.4 Q37.6 17.6 37.6 22 Q37.6 26.2 34 26.4 L22 26 Z" fill="#eeeff0"/><ellipse cx="35.2" cy="21.9" rx="2.3" ry="4.4" fill="#f8f8f9" stroke="#d4d6d9" stroke-width="0.4"/><path d="M21.4 28 L36 27.6 L33 32 L22 33 Z" fill="#e9eaec" opacity="0.9"/></g>
<text x="484.4" y="617.5" font-size="18" font-weight="350" fill="#1c1c1c" text-anchor="middle" transform="translate(0 36.640) scale(1 0.94)" >车间看板1</text>
<text x="558.8" y="617.5" font-size="18" font-weight="350" fill="#1c1c1c" text-anchor="middle" transform="translate(0 36.640) scale(1 0.94)" >语音</text>
<circle cx="605.80" cy="576" r="1.9" fill="#ff0a0a"/><circle cx="614.15" cy="576" r="1.9" fill="#ff0a0a"/><circle cx="622.50" cy="576" r="1.9" fill="#ff0a0a"/><circle cx="630.85" cy="576" r="1.9" fill="#ff0a0a"/><circle cx="639.20" cy="576" r="1.9" fill="#ff0a0a"/><circle cx="647.55" cy="576" r="1.9" fill="#ff0a0a"/>
<g><path d="M685.2 546 q2 -6 6 -3 M695.2 546 q3 -7 6 0 q2 -5 4 0" fill="none" stroke="#4a4a4a" stroke-width="0.7"/><path d="M731.2 546 v-3 M737.2 546 v-3" stroke="#4a4a4a" stroke-width="0.9"/><rect x="677.2" y="546" width="93" height="49" fill="#15100e"/><rect x="679.7" y="548.5" width="88" height="44" fill="#230903"/><text x="683.2" y="555.70" font-size="7.5" font-weight="500" fill="#e23a10" stroke="#e23a10" stroke-width="0.25" textLength="81" lengthAdjust="spacingAndGlyphs">吹塑机CS-01--&gt;设备异常</text><text x="683.2" y="563.15" font-size="7.5" font-weight="500" fill="#e23a10" stroke="#e23a10" stroke-width="0.25" textLength="81" lengthAdjust="spacingAndGlyphs">吹塑机CS-04--&gt;物料异常</text><text x="683.2" y="570.60" font-size="7.5" font-weight="500" fill="#e23a10" stroke="#e23a10" stroke-width="0.25" textLength="81" lengthAdjust="spacingAndGlyphs">吹塑机CS-05--&gt;质量异常</text><text x="683.2" y="578.05" font-size="7.5" font-weight="500" fill="#e23a10" stroke="#e23a10" stroke-width="0.25" textLength="81" lengthAdjust="spacingAndGlyphs">吹塑机CS-07--&gt;产品换线</text><text x="683.2" y="585.50" font-size="7.5" font-weight="500" fill="#e23a10" stroke="#e23a10" stroke-width="0.25" textLength="81" lengthAdjust="spacingAndGlyphs">吹塑机CS-09--&gt;设备异常</text><text x="683.2" y="592.95" font-size="7.5" font-weight="500" fill="#e23a10" stroke="#e23a10" stroke-width="0.25" textLength="81" lengthAdjust="spacingAndGlyphs">吹塑机CS-10--&gt;安全异常</text></g>
<g transform="translate(777 550)"><path d="M1 16.5 Q-0.2 21 1.4 25.6 Q4.6 29.6 10 29.8 L22 41 L26 20 L22 1.6 L10.6 12.6 Q3.6 12.8 1 16.5 Z" fill="url(#gHorn)" stroke="#dcdee1" stroke-width="0.5"/><path d="M5.2 21 Q5.2 19.6 6.8 19.6 L8.6 19.8 Q9.8 20 9.8 21.4 L10.6 40 L5 40 Z" fill="#1c1c1f"/><path d="M-0.4 40.6 Q5 38.8 12 39.2 L21.6 40 L22.4 42 L0 42.4 Z" fill="#1c1c1f"/><rect x="18.8" y="-0.2" width="22.2" height="43.2" rx="10.4" ry="15" fill="url(#gBell)" stroke="#e3e5e7" stroke-width="0.5"/><rect x="20.6" y="1.6" width="19" height="39.6" rx="9" ry="14" fill="url(#gBellIn)"/><path d="M22 18.6 L34 17.4 Q37.6 17.6 37.6 22 Q37.6 26.2 34 26.4 L22 26 Z" fill="#eeeff0"/><ellipse cx="35.2" cy="21.9" rx="2.3" ry="4.4" fill="#f8f8f9" stroke="#d4d6d9" stroke-width="0.4"/><path d="M21.4 28 L36 27.6 L33 32 L22 33 Z" fill="#e9eaec" opacity="0.9"/></g>
<text x="718" y="617.5" font-size="18" font-weight="350" fill="#1c1c1c" text-anchor="middle" transform="translate(0 36.640) scale(1 0.94)" >车间看板n</text>
<text x="800" y="617.5" font-size="18" font-weight="350" fill="#1c1c1c" text-anchor="middle" transform="translate(0 36.640) scale(1 0.94)" >语音</text>
<path d="M731 595.4 V631" stroke="#0c93fb" stroke-width="2"/>
<path d="M65.15 742.84 A8 8 0 0 1 76.85 742.84" fill="none" stroke="#5396d8" stroke-width="1.85" stroke-linecap="round"/><path d="M61.28 739.23 A13.3 13.3 0 0 1 80.72 739.23" fill="none" stroke="#5396d8" stroke-width="1.85" stroke-linecap="round"/><path d="M57.40 735.61 A18.6 18.6 0 0 1 84.60 735.61" fill="none" stroke="#5396d8" stroke-width="1.85" stroke-linecap="round"/>
<g><rect x="50.900000000000006" y="753.9000000000001" width="40" height="39.6" rx="4.6" fill="url(#gAnd)" stroke="#566268" stroke-width="0.7"/><rect x="53.50000000000001" y="756.5000000000001" width="34.8" height="34.4" rx="3" fill="none" stroke="#7f8b91" stroke-width="0.6"/><circle cx="54.7" cy="757.7" r="1.7" fill="#30393e"/><circle cx="54.7" cy="789.7" r="1.7" fill="#30393e"/><circle cx="55.300000000000004" cy="764.3000000000001" r="0.8" fill="#4a555b"/><circle cx="55.300000000000004" cy="783.3000000000001" r="0.8" fill="#4a555b"/><circle cx="87.10000000000001" cy="757.7" r="1.7" fill="#30393e"/><circle cx="87.10000000000001" cy="789.7" r="1.7" fill="#30393e"/><circle cx="86.50000000000001" cy="764.3000000000001" r="0.8" fill="#4a555b"/><circle cx="86.50000000000001" cy="783.3000000000001" r="0.8" fill="#4a555b"/><circle cx="70.9" cy="774.4000000000001" r="15" fill="#59686f"/><circle cx="70.9" cy="774.4000000000001" r="13.6" fill="#f3f5f6"/><ellipse cx="64.9" cy="768.7" rx="4.2" ry="2.9" fill="#1b2f8c"/><rect x="63.00000000000001" y="768.1500000000001" width="3.8" height="1.1" rx="0.5" fill="#ffffff" opacity="0.85"/><ellipse cx="76.9" cy="768.5000000000001" rx="4.2" ry="2.9" fill="#e01b22"/><rect x="75.0" y="767.9500000000002" width="3.8" height="1.1" rx="0.5" fill="#ffffff" opacity="0.85"/><ellipse cx="65.10000000000001" cy="780.3000000000001" rx="4.2" ry="2.9" fill="#35b548"/><rect x="63.20000000000001" y="779.7500000000001" width="3.8" height="1.1" rx="0.5" fill="#ffffff" opacity="0.85"/><ellipse cx="76.9" cy="780.3000000000001" rx="4.2" ry="2.9" fill="#f08a22"/><rect x="75.0" y="779.7500000000001" width="3.8" height="1.1" rx="0.5" fill="#ffffff" opacity="0.85"/><circle cx="70.9" cy="774.7" r="3.2" fill="#3f4e55"/><ellipse cx="70.9" cy="774.7" rx="1.9" ry="1.4" fill="#93a0a6"/><text x="70.9" y="765.0000000000001" font-size="2.6" fill="#e0483c" text-anchor="middle">SUNPN</text></g>
<text x="70.8" y="820.2" font-size="18" font-weight="350" fill="#1c1c1c" text-anchor="middle" transform="translate(0 48.802) scale(1 0.94)" >安灯工位1</text>
<path d="M174.95 742.84 A8 8 0 0 1 186.65 742.84" fill="none" stroke="#5396d8" stroke-width="1.85" stroke-linecap="round"/><path d="M171.08 739.23 A13.3 13.3 0 0 1 190.52 739.23" fill="none" stroke="#5396d8" stroke-width="1.85" stroke-linecap="round"/><path d="M167.20 735.61 A18.6 18.6 0 0 1 194.40 735.61" fill="none" stroke="#5396d8" stroke-width="1.85" stroke-linecap="round"/>
<g><rect x="160.7" y="753.9000000000001" width="40" height="39.6" rx="4.6" fill="url(#gAnd)" stroke="#566268" stroke-width="0.7"/><rect x="163.29999999999998" y="756.5000000000001" width="34.8" height="34.4" rx="3" fill="none" stroke="#7f8b91" stroke-width="0.6"/><circle cx="164.5" cy="757.7" r="1.7" fill="#30393e"/><circle cx="164.5" cy="789.7" r="1.7" fill="#30393e"/><circle cx="165.1" cy="764.3000000000001" r="0.8" fill="#4a555b"/><circle cx="165.1" cy="783.3000000000001" r="0.8" fill="#4a555b"/><circle cx="196.89999999999998" cy="757.7" r="1.7" fill="#30393e"/><circle cx="196.89999999999998" cy="789.7" r="1.7" fill="#30393e"/><circle cx="196.29999999999998" cy="764.3000000000001" r="0.8" fill="#4a555b"/><circle cx="196.29999999999998" cy="783.3000000000001" r="0.8" fill="#4a555b"/><circle cx="180.7" cy="774.4000000000001" r="15" fill="#59686f"/><circle cx="180.7" cy="774.4000000000001" r="13.6" fill="#f3f5f6"/><ellipse cx="174.7" cy="768.7" rx="4.2" ry="2.9" fill="#1b2f8c"/><rect x="172.79999999999998" y="768.1500000000001" width="3.8" height="1.1" rx="0.5" fill="#ffffff" opacity="0.85"/><ellipse cx="186.7" cy="768.5000000000001" rx="4.2" ry="2.9" fill="#e01b22"/><rect x="184.79999999999998" y="767.9500000000002" width="3.8" height="1.1" rx="0.5" fill="#ffffff" opacity="0.85"/><ellipse cx="174.89999999999998" cy="780.3000000000001" rx="4.2" ry="2.9" fill="#35b548"/><rect x="172.99999999999997" y="779.7500000000001" width="3.8" height="1.1" rx="0.5" fill="#ffffff" opacity="0.85"/><ellipse cx="186.7" cy="780.3000000000001" rx="4.2" ry="2.9" fill="#f08a22"/><rect x="184.79999999999998" y="779.7500000000001" width="3.8" height="1.1" rx="0.5" fill="#ffffff" opacity="0.85"/><circle cx="180.7" cy="774.7" r="3.2" fill="#3f4e55"/><ellipse cx="180.7" cy="774.7" rx="1.9" ry="1.4" fill="#93a0a6"/><text x="180.7" y="765.0000000000001" font-size="2.6" fill="#e0483c" text-anchor="middle">SUNPN</text></g>
<text x="180.8" y="820.2" font-size="18" font-weight="350" fill="#1c1c1c" text-anchor="middle" transform="translate(0 48.802) scale(1 0.94)" >安灯工位2</text>
<circle cx="223.20" cy="772" r="1.9" fill="#ff0a0a"/><circle cx="231.55" cy="772" r="1.9" fill="#ff0a0a"/><circle cx="239.90" cy="772" r="1.9" fill="#ff0a0a"/><circle cx="248.25" cy="772" r="1.9" fill="#ff0a0a"/><circle cx="256.60" cy="772" r="1.9" fill="#ff0a0a"/><circle cx="264.95" cy="772" r="1.9" fill="#ff0a0a"/>
<path d="M305.35 742.84 A8 8 0 0 1 317.05 742.84" fill="none" stroke="#5396d8" stroke-width="1.85" stroke-linecap="round"/><path d="M301.48 739.23 A13.3 13.3 0 0 1 320.92 739.23" fill="none" stroke="#5396d8" stroke-width="1.85" stroke-linecap="round"/><path d="M297.60 735.61 A18.6 18.6 0 0 1 324.80 735.61" fill="none" stroke="#5396d8" stroke-width="1.85" stroke-linecap="round"/>
<g>
<path d="M286 780.6 L288.8 779.4 L288.8 766.5 L314 753 L333 758.6 L333 768.4 L335 770 L308 792.4 L286 782.4 Z" fill="#c9cacd"/>
<path d="M288.8 766.5 L314 753 L333 758.6 L307.9 774.4 Z" fill="#e9e9ea"/>
<path d="M288.8 766.5 L307.9 774.4 L307.9 790.7 L288.8 780.5 Z" fill="#e0e0e2"/>
<path d="M307.9 774.4 L333 758.6 L333 768.4 L307.9 790.7 Z" fill="#cdced1"/>
<path d="M288.8 766.5 L307.9 774.4 L333 758.6" fill="none" stroke="#f6f6f7" stroke-width="0.7"/>
<path d="M307.9 774.4 V790.7" stroke="#bfc0c4" stroke-width="0.6"/>
<circle cx="300" cy="780.6" r="1.5" fill="#34353a"/><circle cx="294.9" cy="778.1" r="0.75" fill="#e8484a"/>
<ellipse cx="303.7" cy="760.9" rx="1.9" ry="1.5" fill="#f2bc18" stroke="#4c4f55" stroke-width="0.5"/>
<ellipse cx="309.3" cy="758.6" rx="1.9" ry="1.5" fill="#c4241c" stroke="#4c4f55" stroke-width="0.5"/>
<ellipse cx="314" cy="756.6" rx="1.9" ry="1.5" fill="#ececee" stroke="#4c4f55" stroke-width="0.5"/>
<ellipse cx="311.2" cy="764.9" rx="1.9" ry="1.5" fill="#1c7f38" stroke="#4c4f55" stroke-width="0.5"/>
<ellipse cx="316.3" cy="762.1" rx="1.9" ry="1.5" fill="#1c36b0" stroke="#4c4f55" stroke-width="0.5"/>
<ellipse cx="320.9" cy="759.8" rx="1.9" ry="1.5" fill="#ececee" stroke="#4c4f55" stroke-width="0.5"/>
<path d="M299.6 765.4 L309.4 769.6" stroke="#3a3b40" stroke-width="0.9" stroke-dasharray="1.2 0.5"/>
<path d="M319.4 771.8 l2.6 -1.6 v1.8 l-2.6 1.6 z" fill="#b9c2d6" opacity="0.75"/>
<path d="M324.4 768.6 l2.6 -1.6 v1.8 l-2.6 1.6 z" fill="#b9c2d6" opacity="0.75"/>
<path d="M319.4 776.6 l2.6 -1.6 v1.8 l-2.6 1.6 z" fill="#b9c2d6" opacity="0.75"/>
<path d="M324.4 773.4 l2.6 -1.6 v1.8 l-2.6 1.6 z" fill="#b9c2d6" opacity="0.75"/>
</g>
<g>
<rect x="340.3" y="743.7" width="6.9" height="6.8" rx="0.9" fill="#c8302a"/><rect x="340.3" y="751" width="6.9" height="6.4" fill="#e3a32c"/><rect x="340.3" y="757.9" width="6.9" height="6" fill="#35965a"/>
<rect x="340.3" y="750.3" width="6.9" height="0.9" fill="#7a4a3a"/><rect x="340.3" y="757.2" width="6.9" height="0.9" fill="#6f6a3c"/>
<rect x="341.4" y="745" width="1.4" height="18" fill="#ffffff" opacity="0.22"/>
<rect x="340.6" y="763.9" width="6.3" height="5.6" fill="#eef0f2" stroke="#cfd2d6" stroke-width="0.4"/><rect x="341.2" y="764.8" width="5" height="1" fill="#e5504e"/>
<rect x="342.1" y="769.5" width="3.4" height="19.4" fill="#dbe7ec"/><rect x="342.1" y="769.5" width="1.1" height="19.4" fill="#eef5f7"/>
<ellipse cx="343.5" cy="789.8" rx="4.5" ry="1.6" fill="#cfe0e7"/>
</g>
<text x="327.4" y="820.2" font-size="18" font-weight="350" fill="#1c1c1c" text-anchor="middle" transform="translate(0 48.802) scale(1 0.94)" >安灯工位n</text>
<g transform="translate(436.2 742.2)"><rect width="94" height="53" fill="#0b1c50"/><rect x="0.5" y="0.5" width="93" height="52" fill="none" stroke="#12388c" stroke-width="1"/><rect x="34" y="1.3" width="26" height="1.8" fill="#2a70c8"/><rect x="5" y="1.4" width="8" height="1.6" fill="#c03040"/><rect x="70" y="1.4" width="10" height="1.6" fill="#5f7fb8"/><rect x="82" y="1.4" width="7" height="1.6" fill="#b9a93a"/><rect x="1.6" y="5.6" width="28.6" height="27" rx="2" fill="#0b1740" stroke="#1d4fb0" stroke-width="0.6"/><rect x="1.6" y="35" width="28.6" height="16.4" rx="2" fill="#0b1740" stroke="#1d4fb0" stroke-width="0.6"/><rect x="32" y="5.6" width="30" height="45.8" rx="2" fill="#0b1740" stroke="#1d4fb0" stroke-width="0.6"/><rect x="64" y="5.6" width="28.4" height="26.4" rx="2" fill="#0b1740" stroke="#1d4fb0" stroke-width="0.6"/><rect x="64" y="34.6" width="28.4" height="16.8" rx="2" fill="#0b1740" stroke="#1d4fb0" stroke-width="0.6"/><rect x="3.4" y="10.6" width="5" height="2" fill="#d0303a"/><rect x="3.8" y="8" width="4" height="1.4" fill="#c8d4f0"/><rect x="10.0" y="10.6" width="5" height="2" fill="#e8782a"/><rect x="10.399999999999999" y="8" width="4" height="1.4" fill="#c8d4f0"/><rect x="16.599999999999998" y="10.6" width="5" height="2" fill="#2fc46a"/><rect x="17.0" y="8" width="4" height="1.4" fill="#c8d4f0"/><rect x="23.199999999999996" y="10.6" width="5" height="2" fill="#28b0e8"/><rect x="23.599999999999998" y="8" width="4" height="1.4" fill="#c8d4f0"/><rect x="2.6" y="20.0" width="26.6" height="1.6" fill="#e01818"/><rect x="2.6" y="21.5" width="26.6" height="1.6" fill="#f0701a"/><rect x="2.6" y="23.0" width="26.6" height="1.6" fill="#f0c020"/><rect x="2.6" y="24.5" width="26.6" height="1.6" fill="#2fc04a"/><rect x="2.6" y="26.0" width="26.6" height="1.6" fill="#18a8b8"/><rect x="2.6" y="27.5" width="26.6" height="1.6" fill="#1e6ae0"/><rect x="3.4" y="15.4" width="2.6" height="1.2" fill="#8fa4d8"/><rect x="3.4" y="30" width="2.6" height="1.1" fill="#7f94c8"/><rect x="7.8" y="15.4" width="2.6" height="1.2" fill="#8fa4d8"/><rect x="7.8" y="30" width="2.6" height="1.1" fill="#7f94c8"/><rect x="12.2" y="15.4" width="2.6" height="1.2" fill="#8fa4d8"/><rect x="12.2" y="30" width="2.6" height="1.1" fill="#7f94c8"/><rect x="16.6" y="15.4" width="2.6" height="1.2" fill="#8fa4d8"/><rect x="16.6" y="30" width="2.6" height="1.1" fill="#7f94c8"/><rect x="21.0" y="15.4" width="2.6" height="1.2" fill="#8fa4d8"/><rect x="21.0" y="30" width="2.6" height="1.1" fill="#7f94c8"/><rect x="25.4" y="15.4" width="2.6" height="1.2" fill="#8fa4d8"/><rect x="25.4" y="30" width="2.6" height="1.1" fill="#7f94c8"/><circle cx="3.8" cy="41.4" r="1.3" fill="#18c8d8"/><rect x="6.4" y="40.8" width="3.2" height="1.2" fill="#18c8d8" opacity="0.85"/><rect x="11.2" y="40.8" width="3.2" height="1.2" fill="#18c8d8" opacity="0.85"/><rect x="16.0" y="40.8" width="3.2" height="1.2" fill="#18c8d8" opacity="0.85"/><rect x="20.8" y="40.8" width="3.2" height="1.2" fill="#18c8d8" opacity="0.85"/><rect x="25.6" y="40.8" width="3.2" height="1.2" fill="#18c8d8" opacity="0.85"/><circle cx="3.8" cy="45.4" r="1.3" fill="#28d858"/><rect x="6.4" y="44.8" width="3.2" height="1.2" fill="#28d858" opacity="0.85"/><rect x="11.2" y="44.8" width="3.2" height="1.2" fill="#28d858" opacity="0.85"/><rect x="16.0" y="44.8" width="3.2" height="1.2" fill="#28d858" opacity="0.85"/><rect x="20.8" y="44.8" width="3.2" height="1.2" fill="#28d858" opacity="0.85"/><rect x="25.6" y="44.8" width="3.2" height="1.2" fill="#28d858" opacity="0.85"/><circle cx="3.8" cy="49.4" r="1.3" fill="#e02030"/><rect x="6.4" y="48.8" width="3.2" height="1.2" fill="#e02030" opacity="0.85"/><rect x="11.2" y="48.8" width="3.2" height="1.2" fill="#e02030" opacity="0.85"/><rect x="16.0" y="48.8" width="3.2" height="1.2" fill="#e02030" opacity="0.85"/><rect x="20.8" y="48.8" width="3.2" height="1.2" fill="#e02030" opacity="0.85"/><rect x="25.6" y="48.8" width="3.2" height="1.2" fill="#e02030" opacity="0.85"/><rect x="10.6" y="37" width="3.2" height="1.6" fill="#b8c4e4"/><rect x="15.4" y="37" width="3.2" height="1.6" fill="#b8c4e4"/><rect x="20.2" y="37" width="3.2" height="1.6" fill="#b8c4e4"/><rect x="25.0" y="37" width="3.2" height="1.6" fill="#b8c4e4"/><rect x="34" y="8" width="15.6" height="7.6" fill="#6e90ec"/><rect x="34" y="15.6" width="15.6" height="6.6" fill="#7de0b4"/><rect x="49.6" y="8" width="10.4" height="5.4" fill="#8f9bb8"/><rect x="49.6" y="13.4" width="5" height="8.8" fill="#f6c01c"/><rect x="54.6" y="13.4" width="5.4" height="8.8" fill="#8f70f4"/><circle cx="40" cy="32" r="4.9" fill="#6fdcae"/><path d="M40 32 L40 27.1 A4.9 4.9 0 0 1 44.7 33.4 Z" fill="#38c0f0"/><circle cx="54" cy="32" r="4.9" fill="#6fdcae"/><path d="M54 32 L54 27.1 A4.9 4.9 0 0 1 58.7 33.4 Z" fill="#38c0f0"/><path d="M54 32 L58.7 33.4 A4.9 4.9 0 0 1 51 35.9 Z" fill="#9a8f8a"/><rect x="33.6" y="39.6" width="7" height="1.2" fill="#2f9be8"/><path d="M34 46 Q40 49.5 47 49 T60 45.4" fill="none" stroke="#2a7fe0" stroke-width="0.7"/><path d="M34 49.8 H60" stroke="#24509a" stroke-width="0.5" stroke-dasharray="1.2 2.2"/><path d="M76.19 14.09 A6.2 6.2 0 0 1 84.78 19.27" fill="none" stroke="#f04a3a" stroke-width="3.4"/><path d="M84.78 19.27 A6.2 6.2 0 0 1 82.95 24.22" fill="none" stroke="#f6a52a" stroke-width="3.4"/><path d="M82.95 24.22 A6.2 6.2 0 0 1 77.20 25.84" fill="none" stroke="#f6dc3a" stroke-width="3.4"/><path d="M77.20 25.84 A6.2 6.2 0 0 1 73.05 22.57" fill="none" stroke="#b070f0" stroke-width="3.4"/><path d="M73.05 22.57 A6.2 6.2 0 0 1 72.93 17.29" fill="none" stroke="#5a8af4" stroke-width="3.4"/><path d="M72.93 17.29 A6.2 6.2 0 0 1 76.19 14.09" fill="none" stroke="#38d0e0" stroke-width="3.4"/><rect x="89.00" y="19.30" width="2.2" height="1" fill="#8094c4"/><rect x="86.82" y="25.30" width="2.2" height="1" fill="#8094c4"/><rect x="81.12" y="29.00" width="2.2" height="1" fill="#8094c4"/><rect x="74.08" y="29.00" width="2.2" height="1" fill="#8094c4"/><rect x="68.38" y="25.30" width="2.2" height="1" fill="#8094c4"/><rect x="66.20" y="19.30" width="2.2" height="1" fill="#8094c4"/><rect x="68.38" y="13.30" width="2.2" height="1" fill="#8094c4"/><rect x="74.08" y="9.60" width="2.2" height="1" fill="#8094c4"/><rect x="81.12" y="9.60" width="2.2" height="1" fill="#8094c4"/><rect x="86.82" y="13.30" width="2.2" height="1" fill="#8094c4"/><rect x="66.00" y="42.40" width="1.2" height="7.00" fill="url(#gBar)"/><rect x="67.66" y="43.40" width="1.2" height="6.00" fill="url(#gBar)"/><rect x="69.32" y="44.00" width="1.2" height="5.40" fill="url(#gBar)"/><rect x="70.98" y="44.40" width="1.2" height="5.00" fill="url(#gBar)"/><rect x="72.64" y="44.20" width="1.2" height="5.20" fill="url(#gBar)"/><rect x="74.30" y="43.80" width="1.2" height="5.60" fill="url(#gBar)"/><rect x="75.96" y="43.20" width="1.2" height="6.20" fill="url(#gBar)"/><rect x="77.62" y="42.60" width="1.2" height="6.80" fill="url(#gBar)"/><rect x="79.28" y="42.20" width="1.2" height="7.20" fill="url(#gBar)"/><rect x="80.94" y="42.80" width="1.2" height="6.60" fill="url(#gBar)"/><rect x="82.60" y="42.60" width="1.2" height="6.80" fill="url(#gBar)"/><rect x="84.26" y="42.00" width="1.2" height="7.40" fill="url(#gBar)"/><rect x="85.92" y="46.40" width="1.2" height="3.00" fill="url(#gBar)"/><rect x="87.58" y="47.40" width="1.2" height="2.00" fill="url(#gBar)"/><rect x="89.24" y="47.00" width="1.2" height="2.40" fill="url(#gBar)"/><rect x="67.0" y="37" width="2.4" height="1" fill="#8fa0c8"/><rect x="71.0" y="37" width="2.4" height="1" fill="#8fa0c8"/><rect x="75.0" y="37" width="2.4" height="1" fill="#8fa0c8"/><rect x="79.0" y="37" width="2.4" height="1" fill="#8fa0c8"/></g>
<text x="482.6" y="819.2" font-size="18" font-weight="350" fill="#1c1c1c" text-anchor="middle" transform="translate(0 48.742) scale(1 0.94)" >汇总看板1</text>
<circle cx="576.00" cy="773" r="1.9" fill="#ff0a0a"/><circle cx="584.35" cy="773" r="1.9" fill="#ff0a0a"/><circle cx="592.70" cy="773" r="1.9" fill="#ff0a0a"/><circle cx="601.05" cy="773" r="1.9" fill="#ff0a0a"/><circle cx="609.40" cy="773" r="1.9" fill="#ff0a0a"/><circle cx="617.75" cy="773" r="1.9" fill="#ff0a0a"/>
<g transform="translate(676.6 742.2)"><rect width="94" height="53" fill="#0b1c50"/><rect x="0.5" y="0.5" width="93" height="52" fill="none" stroke="#12388c" stroke-width="1"/><rect x="34" y="1.3" width="26" height="1.8" fill="#2a70c8"/><rect x="5" y="1.4" width="8" height="1.6" fill="#c03040"/><rect x="70" y="1.4" width="10" height="1.6" fill="#5f7fb8"/><rect x="82" y="1.4" width="7" height="1.6" fill="#b9a93a"/><rect x="1.6" y="5.6" width="28.6" height="27" rx="2" fill="#0b1740" stroke="#1d4fb0" stroke-width="0.6"/><rect x="1.6" y="35" width="28.6" height="16.4" rx="2" fill="#0b1740" stroke="#1d4fb0" stroke-width="0.6"/><rect x="32" y="5.6" width="30" height="45.8" rx="2" fill="#0b1740" stroke="#1d4fb0" stroke-width="0.6"/><rect x="64" y="5.6" width="28.4" height="26.4" rx="2" fill="#0b1740" stroke="#1d4fb0" stroke-width="0.6"/><rect x="64" y="34.6" width="28.4" height="16.8" rx="2" fill="#0b1740" stroke="#1d4fb0" stroke-width="0.6"/><rect x="3.4" y="10.6" width="5" height="2" fill="#d0303a"/><rect x="3.8" y="8" width="4" height="1.4" fill="#c8d4f0"/><rect x="10.0" y="10.6" width="5" height="2" fill="#e8782a"/><rect x="10.399999999999999" y="8" width="4" height="1.4" fill="#c8d4f0"/><rect x="16.599999999999998" y="10.6" width="5" height="2" fill="#2fc46a"/><rect x="17.0" y="8" width="4" height="1.4" fill="#c8d4f0"/><rect x="23.199999999999996" y="10.6" width="5" height="2" fill="#28b0e8"/><rect x="23.599999999999998" y="8" width="4" height="1.4" fill="#c8d4f0"/><rect x="2.6" y="20.0" width="26.6" height="1.6" fill="#e01818"/><rect x="2.6" y="21.5" width="26.6" height="1.6" fill="#f0701a"/><rect x="2.6" y="23.0" width="26.6" height="1.6" fill="#f0c020"/><rect x="2.6" y="24.5" width="26.6" height="1.6" fill="#2fc04a"/><rect x="2.6" y="26.0" width="26.6" height="1.6" fill="#18a8b8"/><rect x="2.6" y="27.5" width="26.6" height="1.6" fill="#1e6ae0"/><rect x="3.4" y="15.4" width="2.6" height="1.2" fill="#8fa4d8"/><rect x="3.4" y="30" width="2.6" height="1.1" fill="#7f94c8"/><rect x="7.8" y="15.4" width="2.6" height="1.2" fill="#8fa4d8"/><rect x="7.8" y="30" width="2.6" height="1.1" fill="#7f94c8"/><rect x="12.2" y="15.4" width="2.6" height="1.2" fill="#8fa4d8"/><rect x="12.2" y="30" width="2.6" height="1.1" fill="#7f94c8"/><rect x="16.6" y="15.4" width="2.6" height="1.2" fill="#8fa4d8"/><rect x="16.6" y="30" width="2.6" height="1.1" fill="#7f94c8"/><rect x="21.0" y="15.4" width="2.6" height="1.2" fill="#8fa4d8"/><rect x="21.0" y="30" width="2.6" height="1.1" fill="#7f94c8"/><rect x="25.4" y="15.4" width="2.6" height="1.2" fill="#8fa4d8"/><rect x="25.4" y="30" width="2.6" height="1.1" fill="#7f94c8"/><circle cx="3.8" cy="41.4" r="1.3" fill="#18c8d8"/><rect x="6.4" y="40.8" width="3.2" height="1.2" fill="#18c8d8" opacity="0.85"/><rect x="11.2" y="40.8" width="3.2" height="1.2" fill="#18c8d8" opacity="0.85"/><rect x="16.0" y="40.8" width="3.2" height="1.2" fill="#18c8d8" opacity="0.85"/><rect x="20.8" y="40.8" width="3.2" height="1.2" fill="#18c8d8" opacity="0.85"/><rect x="25.6" y="40.8" width="3.2" height="1.2" fill="#18c8d8" opacity="0.85"/><circle cx="3.8" cy="45.4" r="1.3" fill="#28d858"/><rect x="6.4" y="44.8" width="3.2" height="1.2" fill="#28d858" opacity="0.85"/><rect x="11.2" y="44.8" width="3.2" height="1.2" fill="#28d858" opacity="0.85"/><rect x="16.0" y="44.8" width="3.2" height="1.2" fill="#28d858" opacity="0.85"/><rect x="20.8" y="44.8" width="3.2" height="1.2" fill="#28d858" opacity="0.85"/><rect x="25.6" y="44.8" width="3.2" height="1.2" fill="#28d858" opacity="0.85"/><circle cx="3.8" cy="49.4" r="1.3" fill="#e02030"/><rect x="6.4" y="48.8" width="3.2" height="1.2" fill="#e02030" opacity="0.85"/><rect x="11.2" y="48.8" width="3.2" height="1.2" fill="#e02030" opacity="0.85"/><rect x="16.0" y="48.8" width="3.2" height="1.2" fill="#e02030" opacity="0.85"/><rect x="20.8" y="48.8" width="3.2" height="1.2" fill="#e02030" opacity="0.85"/><rect x="25.6" y="48.8" width="3.2" height="1.2" fill="#e02030" opacity="0.85"/><rect x="10.6" y="37" width="3.2" height="1.6" fill="#b8c4e4"/><rect x="15.4" y="37" width="3.2" height="1.6" fill="#b8c4e4"/><rect x="20.2" y="37" width="3.2" height="1.6" fill="#b8c4e4"/><rect x="25.0" y="37" width="3.2" height="1.6" fill="#b8c4e4"/><rect x="34" y="8" width="15.6" height="7.6" fill="#6e90ec"/><rect x="34" y="15.6" width="15.6" height="6.6" fill="#7de0b4"/><rect x="49.6" y="8" width="10.4" height="5.4" fill="#8f9bb8"/><rect x="49.6" y="13.4" width="5" height="8.8" fill="#f6c01c"/><rect x="54.6" y="13.4" width="5.4" height="8.8" fill="#8f70f4"/><circle cx="40" cy="32" r="4.9" fill="#6fdcae"/><path d="M40 32 L40 27.1 A4.9 4.9 0 0 1 44.7 33.4 Z" fill="#38c0f0"/><circle cx="54" cy="32" r="4.9" fill="#6fdcae"/><path d="M54 32 L54 27.1 A4.9 4.9 0 0 1 58.7 33.4 Z" fill="#38c0f0"/><path d="M54 32 L58.7 33.4 A4.9 4.9 0 0 1 51 35.9 Z" fill="#9a8f8a"/><rect x="33.6" y="39.6" width="7" height="1.2" fill="#2f9be8"/><path d="M34 46 Q40 49.5 47 49 T60 45.4" fill="none" stroke="#2a7fe0" stroke-width="0.7"/><path d="M34 49.8 H60" stroke="#24509a" stroke-width="0.5" stroke-dasharray="1.2 2.2"/><path d="M76.19 14.09 A6.2 6.2 0 0 1 84.78 19.27" fill="none" stroke="#f04a3a" stroke-width="3.4"/><path d="M84.78 19.27 A6.2 6.2 0 0 1 82.95 24.22" fill="none" stroke="#f6a52a" stroke-width="3.4"/><path d="M82.95 24.22 A6.2 6.2 0 0 1 77.20 25.84" fill="none" stroke="#f6dc3a" stroke-width="3.4"/><path d="M77.20 25.84 A6.2 6.2 0 0 1 73.05 22.57" fill="none" stroke="#b070f0" stroke-width="3.4"/><path d="M73.05 22.57 A6.2 6.2 0 0 1 72.93 17.29" fill="none" stroke="#5a8af4" stroke-width="3.4"/><path d="M72.93 17.29 A6.2 6.2 0 0 1 76.19 14.09" fill="none" stroke="#38d0e0" stroke-width="3.4"/><rect x="89.00" y="19.30" width="2.2" height="1" fill="#8094c4"/><rect x="86.82" y="25.30" width="2.2" height="1" fill="#8094c4"/><rect x="81.12" y="29.00" width="2.2" height="1" fill="#8094c4"/><rect x="74.08" y="29.00" width="2.2" height="1" fill="#8094c4"/><rect x="68.38" y="25.30" width="2.2" height="1" fill="#8094c4"/><rect x="66.20" y="19.30" width="2.2" height="1" fill="#8094c4"/><rect x="68.38" y="13.30" width="2.2" height="1" fill="#8094c4"/><rect x="74.08" y="9.60" width="2.2" height="1" fill="#8094c4"/><rect x="81.12" y="9.60" width="2.2" height="1" fill="#8094c4"/><rect x="86.82" y="13.30" width="2.2" height="1" fill="#8094c4"/><rect x="66.00" y="42.40" width="1.2" height="7.00" fill="url(#gBar)"/><rect x="67.66" y="43.40" width="1.2" height="6.00" fill="url(#gBar)"/><rect x="69.32" y="44.00" width="1.2" height="5.40" fill="url(#gBar)"/><rect x="70.98" y="44.40" width="1.2" height="5.00" fill="url(#gBar)"/><rect x="72.64" y="44.20" width="1.2" height="5.20" fill="url(#gBar)"/><rect x="74.30" y="43.80" width="1.2" height="5.60" fill="url(#gBar)"/><rect x="75.96" y="43.20" width="1.2" height="6.20" fill="url(#gBar)"/><rect x="77.62" y="42.60" width="1.2" height="6.80" fill="url(#gBar)"/><rect x="79.28" y="42.20" width="1.2" height="7.20" fill="url(#gBar)"/><rect x="80.94" y="42.80" width="1.2" height="6.60" fill="url(#gBar)"/><rect x="82.60" y="42.60" width="1.2" height="6.80" fill="url(#gBar)"/><rect x="84.26" y="42.00" width="1.2" height="7.40" fill="url(#gBar)"/><rect x="85.92" y="46.40" width="1.2" height="3.00" fill="url(#gBar)"/><rect x="87.58" y="47.40" width="1.2" height="2.00" fill="url(#gBar)"/><rect x="89.24" y="47.00" width="1.2" height="2.40" fill="url(#gBar)"/><rect x="67.0" y="37" width="2.4" height="1" fill="#8fa0c8"/><rect x="71.0" y="37" width="2.4" height="1" fill="#8fa0c8"/><rect x="75.0" y="37" width="2.4" height="1" fill="#8fa0c8"/><rect x="79.0" y="37" width="2.4" height="1" fill="#8fa0c8"/></g>
<text x="723.4" y="819.2" font-size="18" font-weight="350" fill="#1c1c1c" text-anchor="middle" transform="translate(0 48.742) scale(1 0.94)" >汇总看板n</text>
</svg>
</body>
</html>
